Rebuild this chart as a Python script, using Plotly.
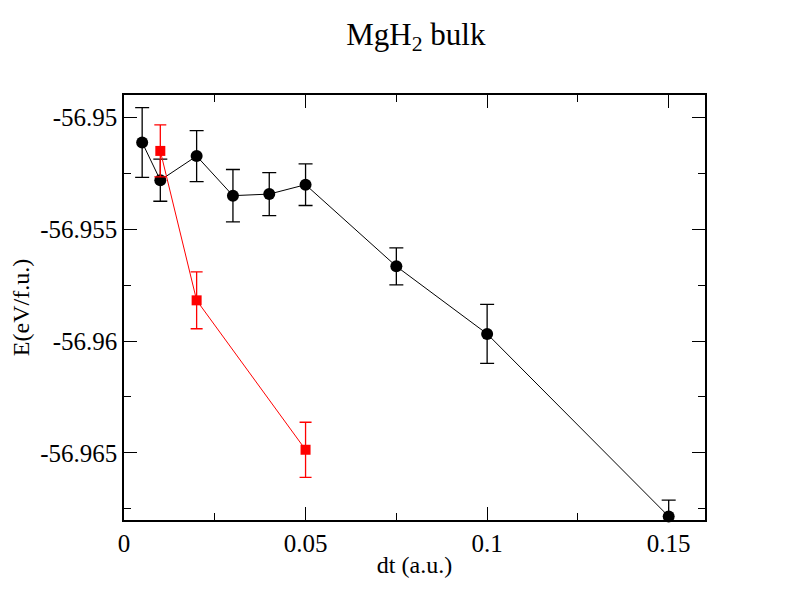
import plotly.graph_objects as go

# black series (circles)
dt_black = [0.005, 0.01, 0.02, 0.03, 0.04, 0.05, 0.075, 0.1, 0.15]
e_black = [-56.95112, -56.95281, -56.95173, -56.95350, -56.95343,
           -56.95301, -56.95666, -56.95968, -56.96784]
err_black = [0.00156, 0.00094, 0.00114, 0.00117, 0.00096,
             0.00093, 0.00083, 0.00132, 0.00073]

# red series (squares)
dt_red = [0.01, 0.02, 0.05]
e_red = [-56.95150, -56.95818, -56.96486]
err_red = [0.00116, 0.00127, 0.00123]

x_ticks = [0, 0.05, 0.1, 0.15]
x_ticktext = ['0', '0.05', '0.1', '0.15']
x_minor = [0.025, 0.075, 0.125]
y_ticks = [-56.95, -56.955, -56.96, -56.965]
y_ticktext = ['-56.95', '-56.955', '-56.96', '-56.965']
y_minor = [-56.9525, -56.9575, -56.9625, -56.9675]

FONT = 'Liberation Serif, Times New Roman, serif'

fig = go.Figure()
fig.add_trace(go.Scatter(
    x=dt_black, y=e_black, mode='lines+markers',
    line=dict(color='black', width=1),
    marker=dict(symbol='circle', size=12, color='black'),
    error_y=dict(type='data', array=err_black, color='black', thickness=1.3, width=7),
    cliponaxis=False, showlegend=False))
fig.add_trace(go.Scatter(
    x=dt_red, y=e_red, mode='lines+markers',
    line=dict(color='#ff0000', width=1),
    marker=dict(symbol='square', size=10, color='#ff0000'),
    error_y=dict(type='data', array=err_red, color='#ff0000', thickness=1.3, width=6),
    cliponaxis=False, showlegend=False))

axis_common = dict(
    showline=True, linecolor='black', linewidth=1.5, mirror='ticks',
    ticks='inside', ticklen=13, tickwidth=1.2, tickcolor='black',
    showgrid=False, zeroline=False,
    tickfont=dict(family=FONT, size=25, color='black'),
)

fig.update_xaxes(
    range=[0, 0.16], tickmode='array', tickvals=x_ticks, ticktext=x_ticktext,
    minor=dict(tickmode='array', tickvals=x_minor, ticks='inside', ticklen=7,
               tickwidth=1.2, tickcolor='black', showgrid=False),
    title=dict(text='dt (a.u.)', font=dict(family=FONT, size=24, color='black'), standoff=0),
    **axis_common)
fig.update_yaxes(
    range=[-56.968, -56.949], tickmode='array', tickvals=y_ticks, ticktext=y_ticktext,
    minor=dict(tickmode='array', tickvals=y_minor, ticks='inside', ticklen=7,
               tickwidth=1.2, tickcolor='black', showgrid=False),
    title=dict(text='E(eV/f.u.)', font=dict(family=FONT, size=24, color='black'), standoff=4),
    **axis_common)

fig.update_layout(
    width=792, height=612,
    margin=dict(l=116, r=95, t=87, b=100),
    font=dict(family=FONT, color='black'),
    paper_bgcolor='white', plot_bgcolor='white',
    title=dict(text='MgH<sub>2</sub> bulk', x=0.515, xanchor='center',
               y=0.958, yanchor='middle', yref='container',
               font=dict(family=FONT, size=31, color='black')),
)

fig.write_html('out.html')
